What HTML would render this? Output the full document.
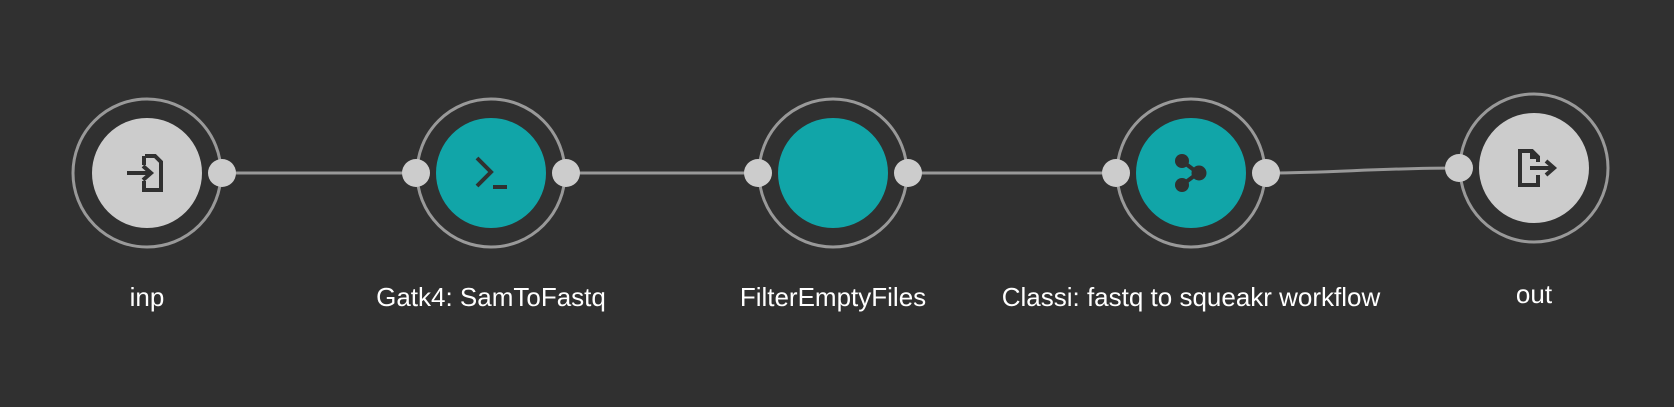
<!DOCTYPE html>
<html><head><meta charset="utf-8"><style>
html,body{margin:0;padding:0;background:#303030;}
svg{display:block;}
text{font-family:"Liberation Sans",sans-serif;font-size:26px;fill:#fff;text-anchor:middle;}
</style></head><body>
<svg width="1674" height="407" viewBox="0 0 1674 407">
<rect width="1674" height="407" fill="#303030"/>
<g stroke="#999" stroke-width="3" fill="none">
<line x1="222" y1="173" x2="416" y2="173"/>
<line x1="566" y1="173" x2="758" y2="173"/>
<line x1="908" y1="173" x2="1116" y2="173"/>
<path d="M1266 173 C1330 173, 1380 168, 1459 168"/>
</g>
<!-- node1 -->
<circle cx="147" cy="173" r="74" fill="none" stroke="#999" stroke-width="3"/>
<circle cx="147" cy="173" r="55" fill="#cccccc"/>
<g transform="translate(147,173)" fill="none" stroke="#303030" stroke-width="4">
<path d="M-2 -17 H8 L14 -11 V17 H-3 V8"/>
<path d="M-3 -8 V-17"/>
<path d="M-20 0 H4 M-4 -7 L4 0 L-4 7"/>
</g>
<circle cx="222" cy="173" r="14" fill="#cccccc"/>
<text x="147" y="306">inp</text>
<!-- node2 -->
<circle cx="491" cy="173" r="74" fill="none" stroke="#999" stroke-width="3"/>
<circle cx="491" cy="173" r="55" fill="#11a5a8"/>
<g transform="translate(491,173)" fill="none" stroke="#303030" stroke-width="4">
<path d="M-14 -15 L0 -1 L-14 13"/>
<path d="M2 14 H16"/>
</g>
<circle cx="416" cy="173" r="14" fill="#cccccc"/>
<circle cx="566" cy="173" r="14" fill="#cccccc"/>
<text x="491" y="306">Gatk4: SamToFastq</text>
<!-- node3 -->
<circle cx="833" cy="173" r="74" fill="none" stroke="#999" stroke-width="3"/>
<circle cx="833" cy="173" r="55" fill="#11a5a8"/>
<circle cx="758" cy="173" r="14" fill="#cccccc"/>
<circle cx="908" cy="173" r="14" fill="#cccccc"/>
<text x="833" y="306">FilterEmptyFiles</text>
<!-- node4 -->
<circle cx="1191" cy="173" r="74" fill="none" stroke="#999" stroke-width="3"/>
<circle cx="1191" cy="173" r="55" fill="#11a5a8"/>
<g transform="translate(1191,173)" fill="#303030" stroke="#303030" stroke-width="4">
<line x1="-9" y1="-12" x2="7" y2="0"/>
<line x1="-9" y1="12" x2="7" y2="0"/>
<circle cx="-9" cy="-12" r="7" stroke="none"/>
<circle cx="-9" cy="12" r="7" stroke="none"/>
<circle cx="8" cy="0" r="7.5" stroke="none"/>
</g>
<circle cx="1116" cy="173" r="14" fill="#cccccc"/>
<circle cx="1266" cy="173" r="14" fill="#cccccc"/>
<text x="1191" y="306">Classi: fastq to squeakr workflow</text>
<!-- node5 -->
<circle cx="1534" cy="168" r="74" fill="none" stroke="#999" stroke-width="3"/>
<circle cx="1534" cy="168" r="55" fill="#cccccc"/>
<g transform="translate(1534,168)" fill="none" stroke="#303030" stroke-width="4">
<path d="M4 7 V17 H-14 V-17 H-2 L4 -11 V-6"/>
<path d="M-2 -17 V-11 H4"/>
<path d="M-4 0 H20 M12 -7 L20 0 L12 7"/>
</g>
<circle cx="1459" cy="168" r="14" fill="#cccccc"/>
<text x="1534" y="303">out</text>
</svg>
</body></html>
